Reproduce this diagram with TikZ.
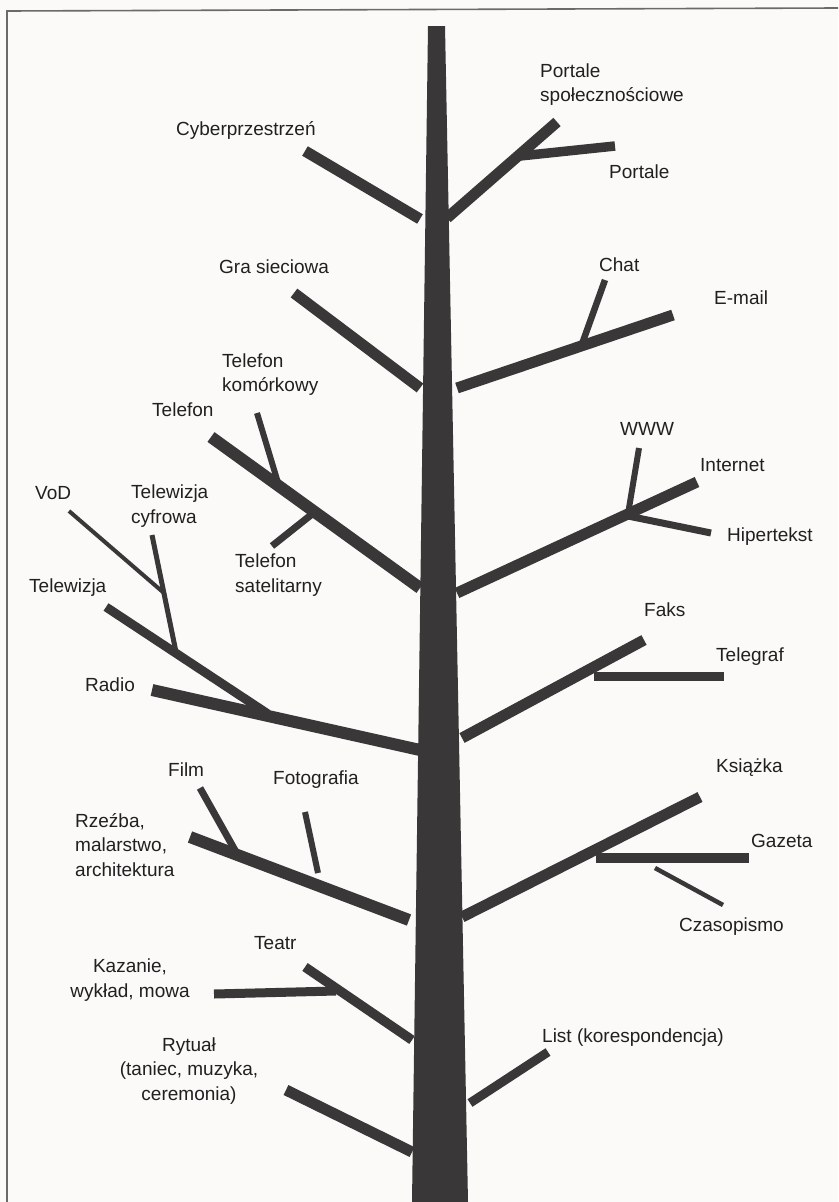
\documentclass[tikz,border=0pt]{standalone}
\usepackage{fontspec}
\setmainfont{Liberation Sans}
\definecolor{bark}{HTML}{393737}
\definecolor{ink}{HTML}{202020}
\definecolor{framecol}{HTML}{6A6A6A}
\definecolor{paper}{HTML}{FBFAF8}
\begin{document}
\begin{tikzpicture}[x=1pt,y=-1pt,
  branch/.style={draw=bark, line width=#1, line cap=butt},
  branch/.default=11pt,
  lbl/.style={font=\fontsize{19}{24.5}\selectfont, text=ink, inner sep=0pt, anchor=west, align=left},
  clbl/.style={font=\fontsize{19}{24.5}\selectfont, text=ink, inner sep=0pt, anchor=center, align=center}]

% page and frame
\fill[paper] (0,0) rectangle (838,1202);
\useasboundingbox (0,0) rectangle (838,1202);
\draw[framecol, line width=1.6pt] (7,1202) -- (7,11) -- (838,8);

% ---- branch end points ----
% upper crown
\coordinate (cyberB) at (420,219);  \coordinate (cyberT) at (305,151);
\coordinate (portB)  at (447,218);  \coordinate (portT)  at (557,122);
\coordinate (portsB) at (520,156);  \coordinate (portsT) at (615,146);
\coordinate (graB)   at (420,388);  \coordinate (graT)   at (294,293);
\coordinate (mailB)  at (457,388);  \coordinate (mailT)  at (673,315);
\coordinate (chatB)  at (582,344);  \coordinate (chatT)  at (605,280);
% telephone / internet
\coordinate (telB)   at (420,588);  \coordinate (telT)   at (211,437);
\coordinate (komB)   at (279,486);  \coordinate (komT)   at (257,413);
\coordinate (satB)   at (316,511);  \coordinate (satT)   at (272,546);
\coordinate (netB)   at (457,593);  \coordinate (netT)   at (697,482);
\coordinate (wwwB)   at (628,514);  \coordinate (wwwT)   at (639,448);
\coordinate (hipB)   at (628,516);  \coordinate (hipT)   at (711,533);
% radio / television
\coordinate (radB)   at (420,750);  \coordinate (radT)   at (152,690);
\coordinate (tvB)    at (268,714);  \coordinate (tvT)    at (106,607);
\coordinate (cyfB)   at (176,652);  \coordinate (cyfT)   at (152,535);
\coordinate (vodB)   at (164,593);  \coordinate (vodT)   at (69,511);
\coordinate (faxB)   at (462,738);  \coordinate (faxT)   at (644,640);
\coordinate (tgB)    at (594,676);  \coordinate (tgT)    at (724,676);
% arts / print
\coordinate (artB)   at (409,920);  \coordinate (artT)   at (190,837);
\coordinate (filmB)  at (236,852);  \coordinate (filmT)  at (200,788);
\coordinate (fotB)   at (318,873);  \coordinate (fotT)   at (305,812);
\coordinate (bookB)  at (462,917);  \coordinate (bookT)  at (700,797);
\coordinate (gazB)   at (596,858);  \coordinate (gazT)   at (749,858);
\coordinate (czaB)   at (655,868);  \coordinate (czaT)   at (723,905);
% roots of the tree
\coordinate (teaB)   at (412,1040); \coordinate (teaT)   at (305,967);
\coordinate (kazB)   at (336,991);  \coordinate (kazT)   at (214,994);
\coordinate (listB)  at (470,1103); \coordinate (listT)  at (548,1052);
\coordinate (rytB)   at (412,1152); \coordinate (rytT)   at (286,1090);

% ---- branches ----
\draw[branch] (cyberB) -- (cyberT);
\draw[branch] (portB) -- (portT);
\draw[branch=9.5pt] (portsB) -- (portsT);
\draw[branch] (graB) -- (graT);
\draw[branch] (mailB) -- (mailT);
\draw[branch=6.5pt] (chatB) -- (chatT);

\draw[branch=12pt] (telB) -- (telT);
\draw[branch=6pt] (komB) -- (komT);
\draw[branch=7pt] (satB) -- (satT);
\draw[branch] (netB) -- (netT);
\draw[branch=6pt] (wwwB) -- (wwwT);
\draw[branch=7pt] (hipB) -- (hipT);

\draw[branch=12pt] (radB) -- (radT);
\draw[branch=9pt] (tvB) -- (tvT);
\draw[branch=5pt] (cyfB) -- (cyfT);
\draw[branch=4pt] (vodB) -- (vodT);
\draw[branch] (faxB) -- (faxT);
\draw[branch=9pt] (tgB) -- (tgT);

\draw[branch=12pt] (artB) -- (artT);
\draw[branch=7pt] (filmB) -- (filmT);
\draw[branch=6pt] (fotB) -- (fotT);
\draw[branch] (bookB) -- (bookT);
\draw[branch=10pt] (gazB) -- (gazT);
\draw[branch=4.5pt] (czaB) -- (czaT);

\draw[branch=9.5pt] (teaB) -- (teaT);
\draw[branch=9pt] (kazB) -- (kazT);
\draw[branch=9pt] (listB) -- (listT);
\draw[branch] (rytB) -- (rytT);

% ---- trunk ----
\coordinate (trTL) at (428,26);  \coordinate (trTR) at (445,26);
\coordinate (trBR) at (468,1202); \coordinate (trBL) at (412,1202);
\fill[bark] (trTL) -- (trTR) -- (trBR) -- (trBL) -- cycle;

% ---- labels ----
\node[lbl] (lPortS) at (540,84.5) {Portale\\społecznościowe};
\node[lbl] (lCyber) at (176,130) {Cyberprzestrzeń};
\node[lbl] (lPort)  at (609,172) {Portale};
\node[lbl] (lGra)   at (219,267) {Gra sieciowa};
\node[lbl] (lChat)  at (599,265) {Chat};
\node[lbl] (lMail)  at (714,298) {E-mail};
\node[lbl] (lKom)   at (222,374.5) {Telefon\\komórkowy};
\node[lbl] (lTel)   at (152,410) {Telefon};
\node[lbl] (lWww)   at (620,429) {WWW};
\node[lbl] (lNet)   at (700,465) {Internet};
\node[lbl] (lVod)   at (35,493) {VoD};
\node[lbl] (lCyf)   at (131,506) {Telewizja\\cyfrowa};
\node[lbl] (lHip)   at (727,537) {Hipertekst};
\node[lbl] (lSat)   at (235,575) {Telefon\\satelitarny};
\node[lbl] (lTv)    at (29,588) {Telewizja};
\node[lbl] (lFax)   at (644,610) {Faks};
\node[lbl] (lTg)    at (716,657) {Telegraf};
\node[lbl] (lRad)   at (85,685) {Radio};
\node[lbl] (lFilm)  at (168,770) {Film};
\node[lbl] (lBook)  at (716,768) {Książka};
\node[lbl] (lFot)   at (273,780) {Fotografia};
\node[lbl] (lArt)   at (75,845) {Rzeźba,\\malarstwo,\\architektura};
\node[lbl] (lGaz)   at (751,841) {Gazeta};
\node[lbl] (lCza)   at (679,927) {Czasopismo};
\node[lbl] (lTea)   at (254,943) {Teatr};
\node[clbl] (lKaz)  at (130,980) {Kazanie,\\wykład, mowa};
\node[lbl] (lList)  at (542,1038) {List (korespondencja)};
\node[clbl] (lRyt)  at (189,1071) {Rytuał\\(taniec, muzyka,\\ceremonia)};
\end{tikzpicture}
\end{document}
